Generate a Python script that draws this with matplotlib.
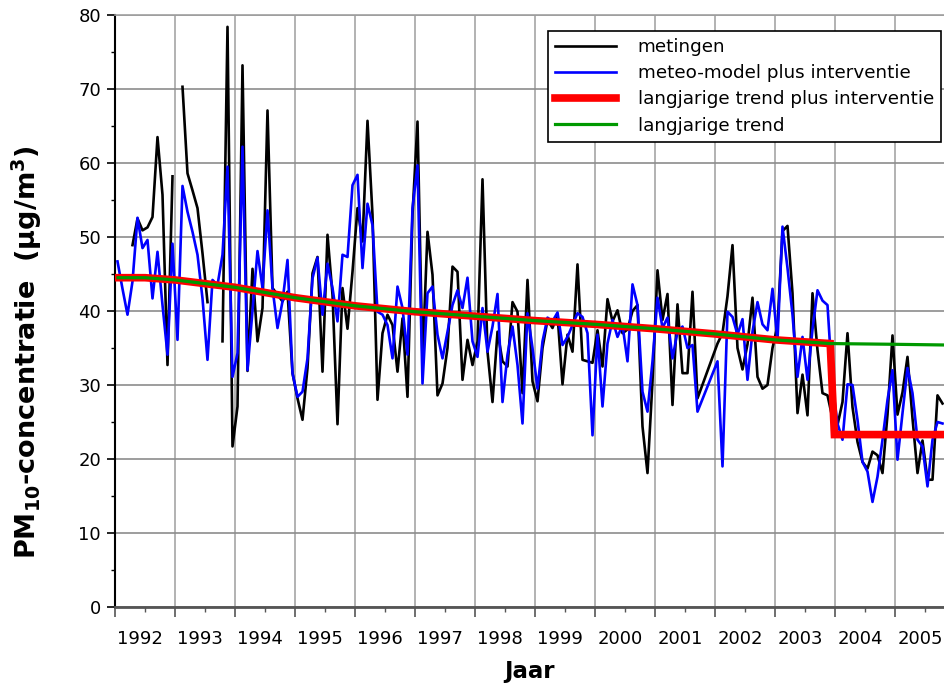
import numpy as np
import matplotlib.pyplot as plt
from matplotlib.ticker import MultipleLocator, FixedLocator, FixedFormatter, NullFormatter
from matplotlib.transforms import ScaledTranslation

plt.rcParams['font.family'] = ['DejaVu Sans']
plt.rcParams['mathtext.fontset'] = 'custom'
plt.rcParams['mathtext.rm'] = 'DejaVu Sans:bold'
plt.rcParams['mathtext.bf'] = 'DejaVu Sans:bold'
plt.rcParams['mathtext.default'] = 'bf'

years = list(range(1992, 2006))

# maandgemiddelden vanaf jan 1992 (nan = geen meting)
nan = np.nan
metingen = [
    nan, nan, nan, 48.9, 52.5, 50.9, 51.3, 52.7, 63.5, 55.7, 32.7, 58.2,   # 1992
    nan, 70.3, 58.6, 56.3, 53.9, 47.8, 41.2, nan, nan, 35.9, 78.4, 21.7,   # 1993
    27.1, 73.2, 31.9, 45.7, 35.9, 40.4, 67.1, 43.1, 42.2, 41.3, 42.6, 31.6,  # 1994
    28.2, 25.3, 32.3, 45.1, 47.3, 31.8, 50.3, 42.2, 24.7, 43.1, 37.6, 45.3,  # 1995
    53.9, 49.4, 65.7, 53.0, 28.0, 37.0, 39.5, 38.1, 31.8, 39.0, 28.4, 53.0,  # 1996
    65.6, 33.2, 50.7, 44.9, 28.6, 30.2, 35.0, 46.0, 45.3, 30.7, 36.1, 32.7,  # 1997
    35.9, 57.8, 34.5, 27.7, 37.2, 33.2, 32.5, 41.2, 39.9, 28.9, 44.2, 30.5,  # 1998
    27.8, 35.0, 38.8, 37.7, 39.5, 30.1, 36.8, 34.5, 46.3, 33.4, 33.2, 33.0,  # 1999
    37.4, 32.5, 41.6, 38.6, 40.1, 37.0, 37.5, 40.0, 40.8, 24.4, 18.1, 30.5,  # 2000
    45.5, 38.8, 42.3, 27.3, 40.9, 31.6, 31.6, 42.6, 28.2, nan, nan, nan,     # 2001
    35.6, 37.0, 42.0, 48.9, 35.0, 32.1, 35.5, 41.8, 31.1, 29.5, 30.0, 35.0,  # 2002
    38.0, 50.8, 51.5, 42.4, 26.2, 31.4, 25.9, 42.4, 34.7, 28.9, 28.6, 25.5,  # 2003
    24.6, 27.7, 37.0, 27.0, 22.3, 19.6, 18.7, 21.0, 20.5, 18.1, 26.0, 36.7,  # 2004
    26.0, 29.0, 33.8, 25.5, 18.1, 22.5, 17.2, 17.2, 28.6, 27.5,              # 2005
]
meteo_model = [
    46.7, 43.0, 39.5, 44.0, 52.6, 48.5, 49.6, 41.7, 48.0, 40.8, 34.1, 49.1,  # 1992
    36.1, 56.9, 53.4, 50.7, 47.6, 41.7, 33.4, 44.2, 43.5, 47.6, 59.5, 31.1,  # 1993
    34.3, 62.2, 32.0, 40.0, 48.1, 43.1, 53.6, 43.1, 37.7, 41.3, 46.9, 31.6,  # 1994
    28.4, 29.1, 33.6, 44.4, 47.2, 39.5, 46.4, 43.1, 38.6, 47.6, 47.3, 57.0,  # 1995
    58.4, 45.8, 54.5, 51.6, 39.9, 39.5, 38.1, 33.6, 43.3, 40.4, 34.1, 53.9,  # 1996
    59.7, 30.2, 42.4, 43.3, 36.8, 33.6, 37.2, 40.8, 42.8, 40.4, 44.5, 35.9,  # 1997
    33.8, 40.4, 34.5, 37.9, 42.3, 27.7, 34.1, 37.9, 32.7, 24.8, 39.7, 35.0,  # 1998
    29.5, 35.9, 39.1, 38.6, 39.8, 35.4, 36.5, 38.1, 39.7, 39.2, 37.0, 23.2,  # 1999
    36.8, 27.1, 35.6, 38.8, 36.5, 38.1, 33.2, 43.6, 40.8, 29.1, 26.4, 33.2,  # 2000
    41.8, 37.7, 39.1, 33.6, 37.2, 37.9, 35.0, 35.4, 26.4, nan, nan, nan,     # 2001
    33.2, 19.0, 39.9, 39.2, 36.8, 38.9, 30.7, 37.2, 41.2, 38.2, 37.4, 43.0,  # 2002
    36.0, 51.4, 45.8, 39.5, 31.1, 36.5, 30.7, 37.5, 42.8, 41.4, 40.8, 30.0,  # 2003
    24.8, 22.6, 30.1, 30.0, 25.3, 19.6, 18.3, 14.2, 17.6, 22.6, 28.0, 32.0,  # 2004
    19.9, 26.2, 32.3, 28.9, 22.6, 21.7, 16.3, 22.6, 25.0, 24.8,              # 2005
]

trend_jaar = [1992.05, 1992.5, 1993.0, 1994.0, 1995.0, 1996.0, 1997.0, 1998.0,
              1999.0, 2000.0, 2001.0, 2002.0, 2003.0, 2003.92, 2005.0, 2005.9]
trend = [44.5, 44.5, 44.2, 43.2, 41.8, 40.7, 39.9, 39.3,
         38.7, 38.2, 37.6, 36.9, 36.1, 35.6, 35.5, 35.4]
interventie_jaar = 2003.99
interventie_niveau = 23.3

# maanden als decimaal jaar (midden van de maand)
t = 1992 + (np.arange(len(meteo_model)) + 0.5) / 12
metingen = np.array(metingen)
meteo_model = np.array(meteo_model)

# in 2001 ontbreken maanden die in de grafiek doorgetrokken zijn
doortrekken = (t > 2001.5) & (t < 2002.0)
keep_m = ~(np.isnan(metingen) & doortrekken)
keep_b = ~(np.isnan(meteo_model) & doortrekken)

red_t = [x for x in trend_jaar if x <= 2003.92] + [interventie_jaar, trend_jaar[-1]]
red_v = trend[:len(red_t) - 2] + [interventie_niveau, interventie_niveau]

fig = plt.figure(figsize=(9.44, 6.86), dpi=100)
ax = fig.add_axes([115 / 944, 1 - 607 / 686, 1 - 115 / 944, 592 / 686])

ax.plot(t[keep_m], metingen[keep_m], color='black', lw=1.9, label='metingen', zorder=3)
ax.plot(t[keep_b], meteo_model[keep_b], color='#0000ff', lw=1.9,
        label='meteo-model plus interventie', zorder=4)
ax.plot(red_t, red_v, color='#ff0000', lw=5.5, solid_joinstyle='miter',
        label='langjarige trend plus interventie', zorder=5)
ax.plot(trend_jaar, trend, color='#009900', lw=2.3, label='langjarige trend', zorder=6)

ax.set_xlim(1992, 1992 + 829 / 60)
ax.set_ylim(0, 80)

ax.xaxis.set_major_locator(MultipleLocator(1))
ax.xaxis.set_major_formatter(NullFormatter())
ax.xaxis.set_minor_locator(FixedLocator([y + 0.5 for y in years]))
ax.xaxis.set_minor_formatter(FixedFormatter([str(y) for y in years]))
ax.yaxis.set_major_locator(MultipleLocator(10))
ax.yaxis.set_minor_locator(MultipleLocator(5))

ax.tick_params(axis='x', which='major', length=7, width=1.2, color='#555555', direction='out')
ax.tick_params(axis='x', which='minor', length=3.5, width=1.0, color='#555555',
               direction='out', labelsize=13, pad=13)
ax.tick_params(axis='y', which='major', length=6, width=1.2, color='black',
               direction='out', labelsize=13, pad=4)
ax.tick_params(axis='y', which='minor', length=3, width=1.0, color='black', direction='out')

# jaartallen staan iets links van het midden van het jaar
shift = ScaledTranslation(-5 / 100, 0, fig.dpi_scale_trans)
for lbl in ax.xaxis.get_minorticklabels():
    lbl.set_transform(lbl.get_transform() + shift)

ax.grid(axis='y', which='major', color='#8c8c8c', lw=1.2)
ax.grid(axis='x', which='major', color='#a6a6a6', lw=1.2)
ax.set_axisbelow(True)

ax.spines['right'].set_visible(False)
ax.spines['top'].set_color('#a0a0a0')
ax.spines['top'].set_linewidth(1.2)
ax.spines['left'].set_color('black')
ax.spines['left'].set_linewidth(1.5)
ax.spines['bottom'].set_color('#555555')
ax.spines['bottom'].set_linewidth(2)

ax.set_xlabel('Jaar', fontsize=16.5, fontweight='bold', labelpad=9)
ax.set_ylabel('PM$_{10}$-concentratie  (µg/m$^{3}$)', fontsize=19.5, fontweight='bold')
ax.yaxis.set_label_coords((44 - 115) / 829, (607 - 352) / 592)

leg = ax.legend(loc='upper left', bbox_to_anchor=((548 - 115) / 829, (607 - 31) / 592),
                borderaxespad=0, fontsize=13.2, handlelength=3.3, handletextpad=1.2,
                labelspacing=0.44, fancybox=False, framealpha=1, borderpad=0.4)
leg.get_frame().set_edgecolor('black')
leg.get_frame().set_linewidth(1.2)

fig.savefig('out.png', dpi=100)
